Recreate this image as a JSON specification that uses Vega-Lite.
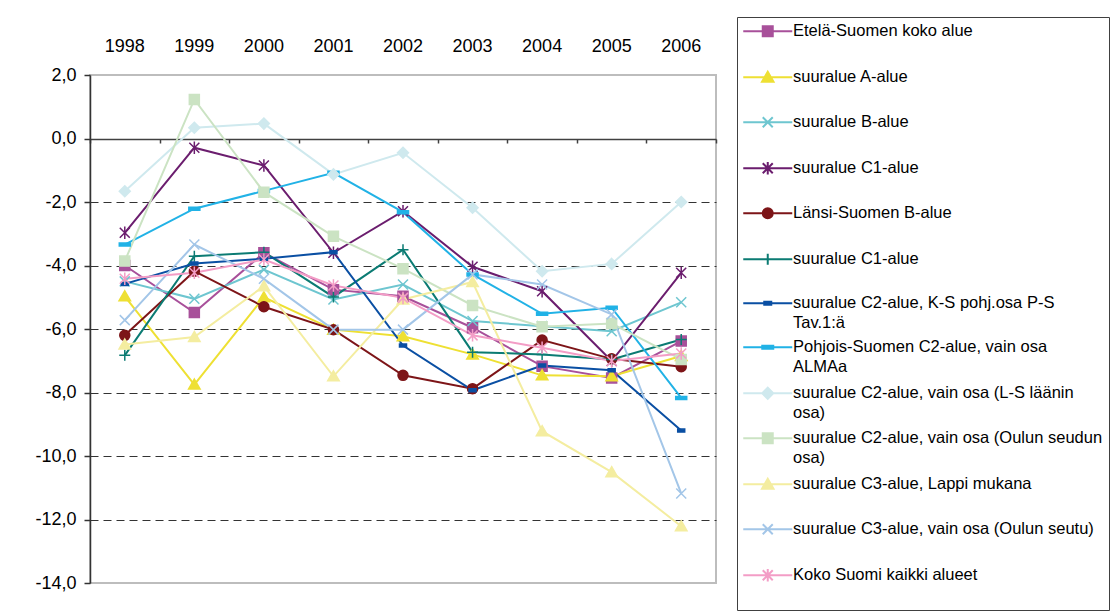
{
  "$schema": "https://vega.github.io/schema/vega-lite/v6.json",
  "width": 626,
  "height": 508,
  "autosize": {"type": "none"},
  "padding": {"left": 90, "top": 75, "right": 396, "bottom": 32},
  "background": "white",
  "config": {
    "view": {"stroke": "#BDBDBD", "strokeWidth": 2},
    "font": "Liberation Sans",
    "axis": {"labelFont": "Liberation Sans", "labelColor": "#000000"}
  },
  "data": {
    "values": [
      {"s": "01|Etelä-Suomen koko alue|", "1998": -4.0, "1999": -5.48, "2000": -3.6, "2001": -4.76, "2002": -4.97, "2003": -5.96, "2004": -7.17, "2005": -7.54, "2006": -6.38},
      {"s": "02|suuralue A-alue|", "1998": -4.97, "1999": -7.75, "2000": -5.0, "2001": -6.02, "2002": -6.23, "2003": -6.8, "2004": -7.46, "2005": -7.49, "2006": -6.85},
      {"s": "03|suuralue B-alue|", "1998": -4.5, "1999": -5.05, "2000": -4.13, "2001": -5.07, "2002": -4.6, "2003": -5.75, "2004": -5.91, "2005": -6.07, "2006": -5.16},
      {"s": "04|suuralue C1-alue|", "1998": -2.97, "1999": -0.29, "2000": -0.85, "2001": -3.6, "2002": -2.29, "2003": -4.04, "2004": -4.81, "2005": -7.01, "2006": -4.23},
      {"s": "05|Länsi-Suomen B-alue|", "1998": -6.2, "1999": -4.18, "2000": -5.3, "2001": -6.02, "2002": -7.46, "2003": -7.88, "2004": -6.35, "2005": -6.94, "2006": -7.19},
      {"s": "06|suuralue C1-alue|", "1998": -6.83, "1999": -3.71, "2000": -3.58, "2001": -4.99, "2002": -3.5, "2003": -6.73, "2004": -6.8, "2005": -6.96, "2006": -6.33},
      {"s": "07|suuralue C2-alue, K-S pohj.osa P-S|Tav.1:ä", "1998": -4.58, "1999": -3.94, "2000": -3.79, "2001": -3.58, "2002": -6.52, "2003": -7.93, "2004": -7.15, "2005": -7.3, "2006": -9.2},
      {"s": "08|Pohjois-Suomen C2-alue, vain osa|ALMAa", "1998": -3.34, "1999": -2.21, "2000": -1.65, "2001": -1.08, "2002": -2.32, "2003": -4.28, "2004": -5.52, "2005": -5.33, "2006": -8.17},
      {"s": "09|suuralue C2-alue, vain osa (L-S läänin|osa)", "1998": -1.66, "1999": 0.34, "2000": 0.47, "2001": -1.13, "2002": -0.45, "2003": -2.18, "2004": -4.18, "2005": -3.95, "2006": -2.0},
      {"s": "10|suuralue C2-alue, vain osa (Oulun seudun|osa)", "1998": -3.86, "1999": 1.23, "2000": -1.69, "2001": -3.08, "2002": -4.1, "2003": -5.26, "2004": -5.93, "2005": -5.83, "2006": -6.96},
      {"s": "11|suuralue C3-alue, Lappi mukana|", "1998": -6.49, "1999": -6.25, "2000": -4.65, "2001": -7.49, "2002": -5.07, "2003": -4.52, "2004": -9.22, "2005": -10.51, "2006": -12.21},
      {"s": "12|suuralue C3-alue, vain osa (Oulun seutu)|", "1998": -5.72, "1999": -3.34, "2000": -4.42, "2001": -6.02, "2002": -6.02, "2003": -4.28, "2004": -4.6, "2005": -5.54, "2006": -11.18},
      {"s": "13|Koko Suomi kaikki alueet|", "1998": -4.42, "1999": -4.23, "2000": -3.81, "2001": -4.63, "2002": -5.02, "2003": -6.2, "2004": -6.59, "2005": -7.01, "2006": -6.77}
    ]
  },
  "transform": [
    {"fold": ["1998", "1999", "2000", "2001", "2002", "2003", "2004", "2005", "2006"], "as": ["year", "v"]}
  ],
  "layer": [
    {
      "mark": {"type": "line", "strokeWidth": 2},
      "encoding": {
        "x": {
          "field": "year", "type": "ordinal",
          "scale": {"type": "band", "paddingInner": 0, "paddingOuter": 0},
          "axis": {"orient": "top", "title": null, "domain": false, "ticks": false, "tickSize": 0, "labelPadding": 20, "labelFontSize": 18, "labelAngle": 0, "grid": false}
        },
        "y": {
          "field": "v", "type": "quantitative",
          "scale": {"domain": [-14, 2], "nice": false, "zero": false},
          "axis": {
            "title": null, "values": [2, 0, -2, -4, -6, -8, -10, -12, -14],
            "labelExpr": "(datum.value < 0 ? '-' : '') + replace(format(abs(datum.value), '.1f'), '.', ',')",
            "labelFontSize": 18, "labelPadding": 8, "tickSize": 6, "tickColor": "#333333", "tickWidth": 1.5,
            "domainColor": "#333333", "domainWidth": 1.5,
            "grid": true, "gridColor": "#333333", "gridDash": [8, 5], "gridWidth": 1,
            "gridOpacity": {"condition": {"test": "datum.value >= 0 || datum.value <= -14", "value": 0}, "value": 1}
          }
        },
        "color": {
          "field": "s", "type": "nominal",
          "scale": {
            "domain": ["01|Etelä-Suomen koko alue|", "02|suuralue A-alue|", "03|suuralue B-alue|", "04|suuralue C1-alue|", "05|Länsi-Suomen B-alue|", "06|suuralue C1-alue|", "07|suuralue C2-alue, K-S pohj.osa P-S|Tav.1:ä", "08|Pohjois-Suomen C2-alue, vain osa|ALMAa", "09|suuralue C2-alue, vain osa (L-S läänin|osa)", "10|suuralue C2-alue, vain osa (Oulun seudun|osa)", "11|suuralue C3-alue, Lappi mukana|", "12|suuralue C3-alue, vain osa (Oulun seutu)|", "13|Koko Suomi kaikki alueet|"],
            "range": ["#A8509A", "#EEE033", "#6EC6D0", "#6B1D6E", "#7D1518", "#0B7B73", "#0A4FA3", "#21B2E6", "#CFE9EE", "#CBE3C3", "#F4EDA0", "#A3C6E8", "#F39DC6"]
          },
          "legend": {
            "title": null, "orient": "none", "legendX": 647, "legendY": -58,
            "padding": 6, "strokeColor": "#404040", "fillColor": "white",
            "labelFont": "Liberation Sans", "labelFontSize": 16.5, "labelColor": "#000000", "labelLimit": 400,
            "labelExpr": "slice(split(datum.label, '|'), 1)",
            "rowPadding": 7, "symbolSize": 100, "symbolOffset": 16.5, "labelOffset": 17, "symbolStrokeWidth": 2,
            "encode": {
              "symbols": {"update": {
                "shape": {"signal": "['M-4.9,0H4.9M-1,-1H1V1H-1Z', 'M-4.9,0H4.9M0,-1.1L1.15,0.9H-1.15Z', 'M-4.9,0H4.9M-1,-1L1,1M-1,1L1,-1', 'M-4.9,0H4.9M-1,-1L1,1M-1,1L1,-1M0,-1.25V1.25', 'M-4.9,0H4.9M1,0A1,1,0,1,1,-1,0A1,1,0,1,1,1,0Z', 'M-4.9,0H4.9M0,-1.1V1.1', 'M-4.9,0H4.9M-0.7,-0.3H0.7V0.3H-0.7Z', 'M-4.9,0H4.9M-1.1,-0.3H1.1V0.3H-1.1Z', 'M-4.9,0H4.9M0,-1.1L1.1,0L0,1.1L-1.1,0Z', 'M-4.9,0H4.9M-1,-1H1V1H-1Z', 'M-4.9,0H4.9M0,-1.1L1.15,0.9H-1.15Z', 'M-4.9,0H4.9M-1,-1L1,1M-1,1L1,-1', 'M-4.9,0H4.9M-1,-1L1,1M-1,1L1,-1M0,-1.25V1.25'][datum.index]"},
                "fill": {"scale": "color", "field": "value"},
                "stroke": {"scale": "color", "field": "value"},
                "strokeWidth": {"value": 2},
                "opacity": {"value": 1}
              }},
              "labels": {"update": {"lineHeight": {"value": 20}}}
            }
          }
        }
      }
    },
    {
      "mark": {"type": "point", "filled": true, "size": 100, "strokeWidth": 1.5, "opacity": 1},
      "encoding": {
        "x": {
          "field": "year", "type": "ordinal",
          "scale": {"type": "band", "paddingInner": 0, "paddingOuter": 0},
          "axis": {"orient": "bottom", "offset": -444, "title": null, "labels": false, "ticks": true, "tickBand": "extent", "tickSize": 4, "tickColor": "#404040", "tickWidth": 1.5, "domainColor": "#404040", "domainWidth": 1.5, "grid": false}
        },
        "y": {
          "field": "v", "type": "quantitative",
          "scale": {"domain": [-14, 2], "nice": false, "zero": false},
          "axis": {
            "title": null, "values": [2, 0, -2, -4, -6, -8, -10, -12, -14],
            "labelExpr": "(datum.value < 0 ? '-' : '') + replace(format(abs(datum.value), '.1f'), '.', ',')",
            "labelFontSize": 18, "labelPadding": 8, "tickSize": 6, "tickColor": "#333333", "tickWidth": 1.5,
            "domainColor": "#333333", "domainWidth": 1.5,
            "grid": true, "gridColor": "#333333", "gridDash": [8, 5], "gridWidth": 1,
            "gridOpacity": {"condition": {"test": "datum.value >= 0 || datum.value <= -14", "value": 0}, "value": 1}
          }
        },
        "fill": {
          "field": "s", "type": "nominal", "legend": null,
          "scale": {
            "range": ["#A8509A", "#EEE033", "#6EC6D0", "#6B1D6E", "#7D1518", "#0B7B73", "#0A4FA3", "#21B2E6", "#CFE9EE", "#CBE3C3", "#F4EDA0", "#A3C6E8", "#F39DC6"]
          }
        },
        "stroke": {
          "field": "s", "type": "nominal", "legend": null,
          "scale": {
            "range": ["#A8509A", "#EEE033", "#6EC6D0", "#6B1D6E", "#7D1518", "#0B7B73", "#0A4FA3", "#21B2E6", "#CFE9EE", "#CBE3C3", "#F4EDA0", "#A3C6E8", "#F39DC6"]
          }
        },
        "shape": {
          "field": "s", "type": "nominal", "legend": null,
          "scale": {
            "range": [
              "M-1,-1H1V1H-1Z",
              "M0,-1.1L1.15,0.9H-1.15Z",
              "M-1,-1L1,1M-1,1L1,-1",
              "M-1,-1L1,1M-1,1L1,-1M0,-1.25V1.25",
              "M1,0A1,1,0,1,1,-1,0A1,1,0,1,1,1,0Z",
              "M-1.1,0H1.1M0,-1.1V1.1",
              "M-0.7,-0.3H0.7V0.3H-0.7Z",
              "M-1.1,-0.3H1.1V0.3H-1.1Z",
              "M0,-1.1L1.1,0L0,1.1L-1.1,0Z",
              "M-1,-1H1V1H-1Z",
              "M0,-1.1L1.15,0.9H-1.15Z",
              "M-1,-1L1,1M-1,1L1,-1",
              "M-1,-1L1,1M-1,1L1,-1M0,-1.25V1.25"
            ]
          }
        }
      }
    }
  ],
  "resolve": {"axis": {"x": "independent"}}
}
